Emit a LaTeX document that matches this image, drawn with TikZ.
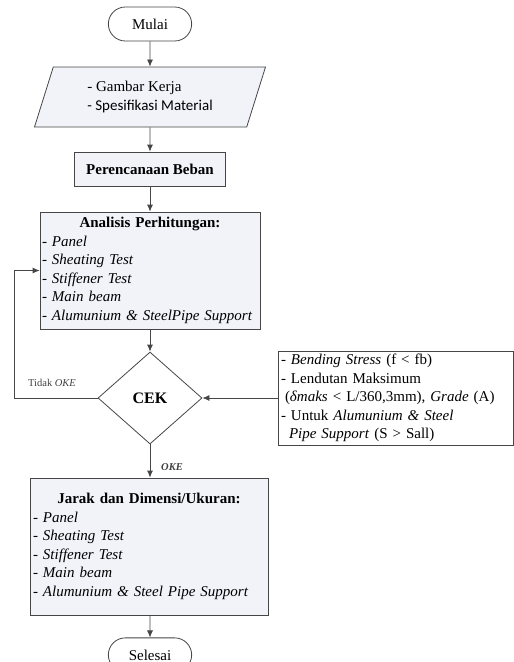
\documentclass[tikz,border=0pt]{standalone}
\usepackage{fontspec}
\setmainfont{Liberation Serif}
\newfontfamily\calibri{Carlito}
\usepackage{tikz}
\usetikzlibrary{shapes.geometric,shapes.misc,positioning,arrows.meta}
\definecolor{boxfill}{RGB}{241,243,249}
\definecolor{linegray}{RGB}{70,70,70}
\tikzstyle{base}=[draw=linegray, line width=0.8pt, font=\fontsize{15}{18.5}\selectfont]
\tikzstyle{term}=[base, rounded rectangle, minimum width=90pt, minimum height=34pt, fill=white]
\tikzstyle{io}=[base, trapezium, trapezium left angle=64, trapezium right angle=116, trapezium stretches body, minimum width=231pt, minimum height=60pt, align=left, fill=boxfill, font=\fontsize{15}{19}\selectfont]
\tikzstyle{box}=[base, rectangle, inner xsep=2pt, inner ysep=1pt, fill=boxfill]
\tikzstyle{decision}=[base, diamond, minimum width=104pt, minimum height=92pt, inner sep=0pt, fill=white, font=\fontsize{16}{18}\selectfont\bfseries]
\tikzstyle{arr}=[draw=linegray, line width=0.8pt, -{Latex[length=7pt,width=6pt]}]
\tikzstyle{lbl}=[font=\fontsize{10.5}{12}\selectfont, text=black!75]

\begin{document}
\begin{tikzpicture}[x=1pt,y=-1pt]
    \useasboundingbox (0,0) rectangle (514,662);

    \node[term] (mulai) at (150,24) {Mulai};
    \node[io] (input) at (150,97) {- Gambar Kerja\\{\calibri - Spesifikasi Material}};
    \node[box, minimum width=151pt, minimum height=34pt] (beban) at (150,169) {\textbf{Perencanaan Beban}};
    \node[box, minimum width=220pt, minimum height=117pt, text width=216pt, align=left] (analisis) at (150,270.5)
        {\makebox[\linewidth][c]{\textbf{Analisis Perhitungan:}}\\
         - \textit{Panel}\\
         - \textit{Sheating Test}\\
         - \textit{Stiffener Test}\\
         - \textit{Main beam}\\
         - \textit{Alumunium \& SteelPipe Support}};
    \node[decision] (cek) at (150,398) {CEK};
    \node[box, fill=white, minimum width=235pt, minimum height=94pt, inner xsep=3pt, text width=229pt, align=left] (kriteria) at (395.5,398)
        {- \textit{Bending Stress} (f < fb)\\
         - Lendutan Maksimum\\
         \hspace*{4pt}(\textit{δmaks} < L/360,3mm), \textit{Grade} (A)\\
         - Untuk \textit{Alumunium \& Steel}\\
         \hspace*{8pt}\textit{Pipe Support} (S > Sall)};
    \node[box, minimum width=238pt, minimum height=137pt, inner xsep=3pt, text width=232pt, align=left] (jarak) at (149,546.5)
        {\makebox[\linewidth][c]{\textbf{Jarak dan Dimensi/Ukuran:}}\\
         - \textit{Panel}\\
         - \textit{Sheating Test}\\
         - \textit{Stiffener Test}\\
         - \textit{Main beam}\\
         - \textit{Alumunium \& Steel Pipe Support}};
    \node[term, anchor=base] (selesai) at (150,660) {Selesai};
    \coordinate (back) at (14,270.5);

    \draw[arr] (mulai) -- (input);
    \draw[arr] (input) -- (beban);
    \draw[arr] (beban) -- (analisis);
    \draw[arr] (analisis) -- (cek);
    \draw[arr] (kriteria) -- (cek);
    \draw[arr] (cek.west) -| (back) -- (analisis.west);
    \draw[arr] (cek) -- (cek |- jarak.north);
    \draw[arr] (cek |- jarak.south) -- (selesai);

    \node[lbl] (tidak) at (52,383) {Tidak \textit{OKE}};
    \node[lbl, font=\fontsize{10.5}{12}\selectfont\bfseries\itshape] (oke) at (172,467) {OKE};
\end{tikzpicture}
\end{document}
